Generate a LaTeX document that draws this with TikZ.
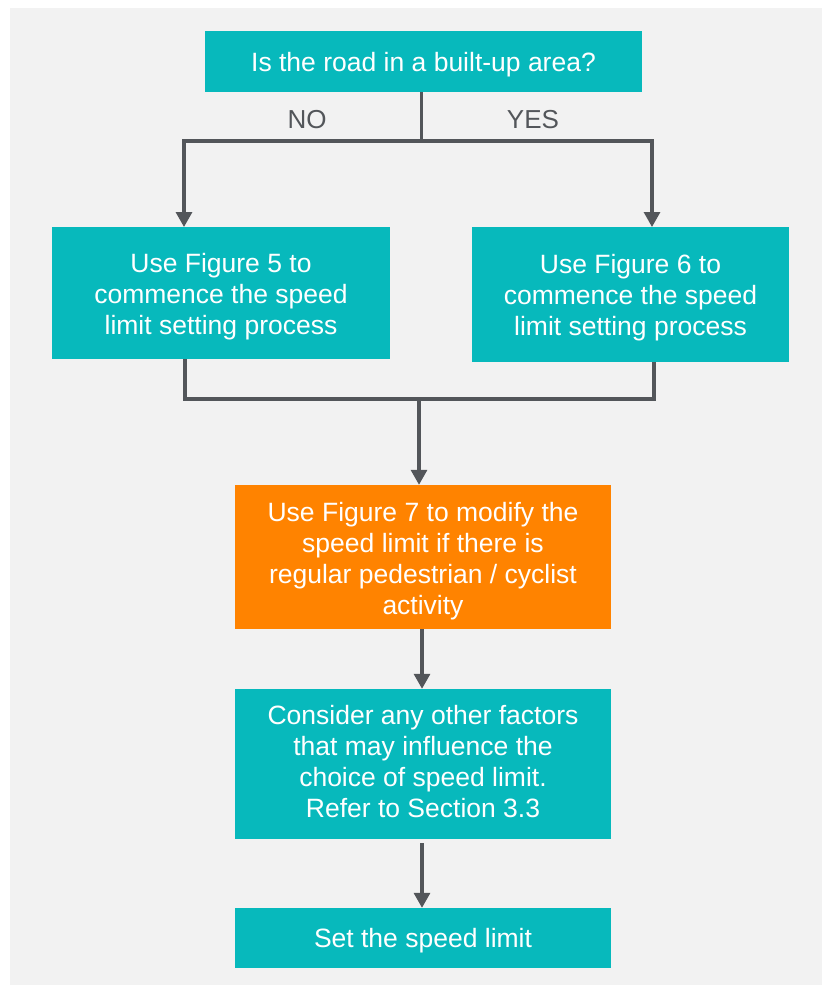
\documentclass[tikz,border=0pt]{standalone}
\usepackage{fontspec}
\setmainfont{Liberation Sans}
\usetikzlibrary{arrows.meta}
\definecolor{teal1}{RGB}{7,185,188}
\definecolor{orng}{RGB}{255,131,0}
\definecolor{lgray}{RGB}{83,86,90}
\definecolor{bgc}{RGB}{242,242,242}
\tikzset{
  box/.style={fill=teal1, inner sep=0pt},
  obox/.style={box, fill=orng},
  txt/.style={text=white, inner sep=0pt, align=center,
    font=\fontsize{26.5}{31}\selectfont},
  conn/.style={draw=lgray, line width=3.2pt},
  arr/.style={conn, -{Triangle[width=16pt,length=15pt]}},
  lbl/.style={text=lgray, font=\fontsize{26}{31}\selectfont}
}
\begin{document}
\begin{tikzpicture}[x=1pt,y=-1pt]
\useasboundingbox (0,0) rectangle (822,985);
\fill[white] (0,0) rectangle (822,985);
\fill[bgc] (10,8) rectangle (822,985);

\node[box, minimum width=437pt, minimum height=61pt] (top) at (423.5,61.5) {};
\node[box, minimum width=338pt, minimum height=132pt] (left) at (221,293) {};
\node[box, minimum width=317pt, minimum height=135pt] (right) at (630.5,294.5) {};
\node[obox, minimum width=376pt, minimum height=144pt] (fig7) at (423,557) {};
\node[box, minimum width=376pt, minimum height=150pt] (other) at (423,764) {};
\node[box, minimum width=376pt, minimum height=60pt] (set) at (423,938) {};

\node[txt] (top-t) at ([yshift=-3pt]top.center) {Is the road in a built-up area?};
\node[txt] (left-t) at ([yshift=-3.5pt]left.center) {Use Figure 5 to\\commence the speed\\limit setting process};
\node[txt] (right-t) at ([yshift=-3.5pt]right.center) {Use Figure 6 to\\commence the speed\\limit setting process};
\node[txt] (fig7-t) at ([yshift=-4pt]fig7.center) {Use Figure 7 to modify the\\speed limit if there is\\regular pedestrian / cyclist\\activity};
\node[txt] (other-t) at ([yshift=2pt]other.center) {Consider any other factors\\that may influence the\\choice of speed limit.\\Refer to Section 3.3};
\node[txt] (set-t) at ([yshift=-3pt]set.center) {Set the speed limit};

\node[lbl] (no) at (307,120) {NO};
\node[lbl] (yes) at (533,120) {YES};

\coordinate (jt) at (421.7,141);
\coordinate (lin) at (184,227);
\coordinate (rin) at (652,227);
\coordinate (lout) at (185,359);
\coordinate (rout) at (654,362);
\coordinate (jb) at (419,399);

\draw[conn] (jt |- top.south) -- (jt);
\draw[arr] (jt) -| (lin);
\draw[arr] (jt) -| (rin);
\draw[conn, line join=miter] (lout) |- (jb) -| (rout);
\draw[arr] (jb) -- (jb |- fig7.north);
\draw[arr] ([xshift=-1pt]fig7.south) -- ([xshift=-1pt]other.north);
\draw[arr] ([xshift=-1pt,yshift=-4pt]other.south) -- ([xshift=-1pt]set.north);
\end{tikzpicture}
\end{document}
